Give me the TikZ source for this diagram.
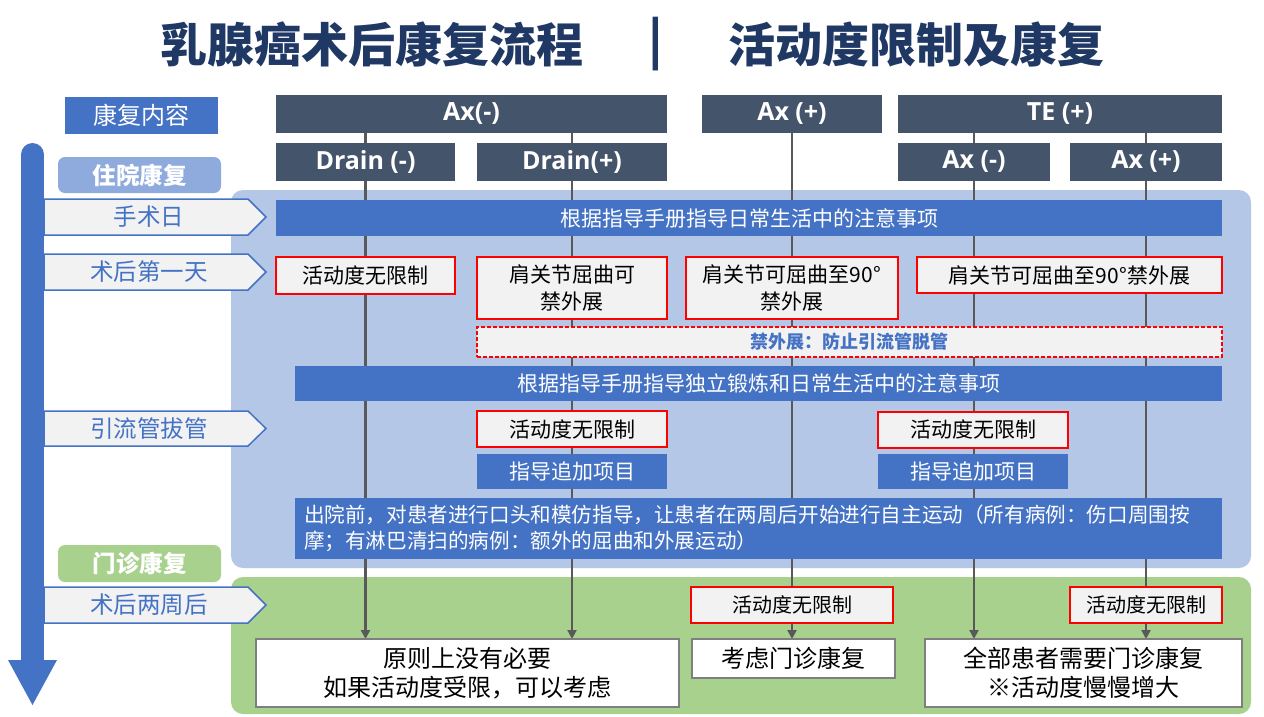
\documentclass[tikz,border=0pt]{standalone}
\usepackage{fontspec}
\setmainfont{Noto Sans CJK SC}
\newfontfamily\hdrfont{Open Sans}
\usetikzlibrary{arrows.meta}
\definecolor{navy}{HTML}{203864}
\definecolor{hdr}{HTML}{44546A}
\definecolor{mblue}{HTML}{4472C4}
\definecolor{lblue}{HTML}{B4C7E7}
\definecolor{sblue}{HTML}{8FAADC}
\definecolor{lgreen}{HTML}{A9D18E}
\definecolor{lgray}{HTML}{F2F2F2}
\definecolor{lnc}{HTML}{595959}
\definecolor{bgray}{HTML}{7F7F7F}
\newcommand\fsz[2]{\fontsize{#1pt}{#2pt}\selectfont}
\pgfdeclarelayer{panel}
\pgfdeclarelayer{lines}
\pgfsetlayers{panel,lines,main}
\tikzset{
  bx/.style 2 args={minimum width=#1pt, minimum height=#2pt, inner sep=0pt, outer sep=0pt, align=center},
  hdrbox/.style={fill=hdr, text=white, font=\hdrfont\bfseries\fsz{25}{29}},
  redbox/.style={fill=lgray, draw=red, line width=2pt, text=black, font=\fsz{21}{27}},
  banner/.style={fill=mblue, text=white, font=\fsz{21}{26}},
  wbox/.style={fill=white, draw=bgray, line width=2.5pt, text=black, font=\fsz{24}{29}},
  chev/.style={fill=lgray, draw=mblue, line width=1.5pt},
  chevtext/.style={text=mblue, font=\fsz{23.5}{28}, inner sep=0pt},
  stage/.style={rounded corners=7pt, text=white, font=\bfseries\fsz{23.5}{28}},
  conn/.style={draw=lnc, line width=2.2pt},
  arr/.style={-{Triangle[length=9pt,width=9pt]}},
  ttl/.style={text=navy, font=\bfseries\fsz{47}{52}, inner sep=0pt},
}
\begin{document}
\begin{tikzpicture}[x=1pt,y=-1pt]
\useasboundingbox (0,0) rectangle (1264,716);

% title
\node[ttl] (t1) at (372,44) {乳腺癌术后康复流程};
\node[ttl] (t2) at (656,44) {|};
\node[ttl] (t3) at (916,44) {活动度限制及康复};

% panels
\begin{pgfonlayer}{panel}
\fill[white] (0,0) rectangle (1264,716);
\fill[lblue, rounded corners=12pt] (231,190) rectangle (1251,568);
\fill[lgreen, rounded corners=12pt] (231,577) rectangle (1251,714);
\end{pgfonlayer}

% timeline arrow
\draw[mblue, line width=23pt, line cap=round] (32.5,154.5) -- (32.5,665);
\fill[mblue] (8,660) -- (57,660) -- (32.5,705) -- cycle;

% left labels
\node[bx={153}{37}, fill=mblue, text=white, font=\fsz{24}{28}] (kfnr) at (141.5,115.5) {康复内容};
\node[bx={163}{36}, stage, fill=sblue] (zy) at (139.5,175) {住院康复};
\node[bx={163}{37}, stage, fill=lgreen] (mz) at (139.5,563.5) {门诊康复};

% chevrons
\path[chev] (44,199) -- (248,199) -- (266,217) -- (248,235) -- (44,235) -- cycle;
\node[chevtext] (c1) at (149,217) {手术日};
\path[chev] (44,254) -- (248,254) -- (266,272) -- (248,290) -- (44,290) -- cycle;
\node[chevtext] (c2) at (149,272) {术后第一天};
\path[chev] (44,411) -- (248,411) -- (266,428.5) -- (248,446) -- (44,446) -- cycle;
\node[chevtext] (c3) at (149,428.5) {引流管拔管};
\path[chev] (44,587) -- (248,587) -- (266,605) -- (248,623) -- (44,623) -- cycle;
\node[chevtext] (c4) at (149,605) {术后两周后};

% headers
\node[bx={391}{38}, hdrbox] (axm) at (471.5,114) {Ax(-)};
\node[bx={180}{38}, hdrbox] (axp) at (792,114) {Ax (+)};
\node[bx={324}{38}, hdrbox] (te) at (1060,114) {TE (+)};
\node[bx={179}{38}, hdrbox] (drm) at (365.5,162) {Drain (-)};
\node[bx={190}{38}, hdrbox] (drp) at (572,162) {Drain(+)};
\node[bx={152}{38}, hdrbox] (tem) at (974,162) {Ax (-)};
\node[bx={152}{38}, hdrbox] (tep) at (1146,162) {Ax (+)};

% in-hospital content
\node[bx={946}{36}, banner] (ban1) at (749,218) {根据指导手册指导日常生活中的注意事项};
\node[bx={179}{37}, redbox] (r1) at (365.5,275.5) {活动度无限制};
\node[bx={190}{62}, redbox] (r2) at (572,288) {肩关节屈曲可\\禁外展};
\node[bx={212}{62}, redbox] (r3) at (792,288) {肩关节可屈曲至90°\\禁外展};
\node[bx={305}{36}, redbox] (r4) at (1069.5,275) {肩关节可屈曲至90°禁外展};
\node[bx={745}{30}, fill=lgray, draw=red, dash pattern=on 4pt off 2pt, line width=1.2pt, text=mblue, font=\bfseries\fsz{18}{22}] (dsh) at (849.5,342) {禁外展：防止引流管脱管};
\node[bx={927}{35}, banner] (ban2) at (758.5,383.5) {根据指导手册指导独立锻炼和日常生活中的注意事项};
\node[bx={190}{36}, redbox] (r5) at (572,429) {活动度无限制};
\node[bx={190}{36}, redbox] (r6) at (973,429.5) {活动度无限制};
\node[bx={190}{35}, banner] (g1) at (572,471.5) {指导追加项目};
\node[bx={190}{35}, banner] (g2) at (973,471.5) {指导追加项目};
\node[bx={927}{61}, banner, text width=909pt, align=left, font=\fsz{20.6}{26}] (ban3) at (758.5,528.5) {出院前，对患者进行口头和模仿指导，让患者在两周后开始进行自主运动（所有病例：伤口周围按\\摩；有淋巴清扫的病例：额外的屈曲和外展运动）};

% outpatient content
\node[bx={202}{36}, redbox, font=\fsz{20}{26}] (r7) at (792,605) {活动度无限制};
\node[bx={152}{36}, redbox, font=\fsz{20}{26}] (r8) at (1146,605) {活动度无限制};
\node[bx={423}{68}, wbox] (w1) at (467.5,673) {原则上没有必要\\如果活动度受限，可以考虑};
\node[bx={203}{39}, wbox] (w2) at (793.5,658.5) {考虑门诊康复};
\node[bx={317}{68}, wbox] (w3) at (1083.5,673) {全部患者需要门诊康复\\※活动度慢慢增大};

% connectors
\begin{pgfonlayer}{lines}
\draw[conn,arr] (axm.south -| drm.center) -- (w1.north -| drm.center);
\draw[conn,arr] (axm.south -| drp.center) -- (w1.north -| drp.center);
\draw[conn,arr] (axp.south) -- (w2.north -| axp.south);
\draw[conn,arr] (te.south -| tem.center) -- (w3.north -| tem.center);
\draw[conn,arr] (te.south -| tep.center) -- (w3.north -| tep.center);
\end{pgfonlayer}
\end{tikzpicture}
\end{document}
